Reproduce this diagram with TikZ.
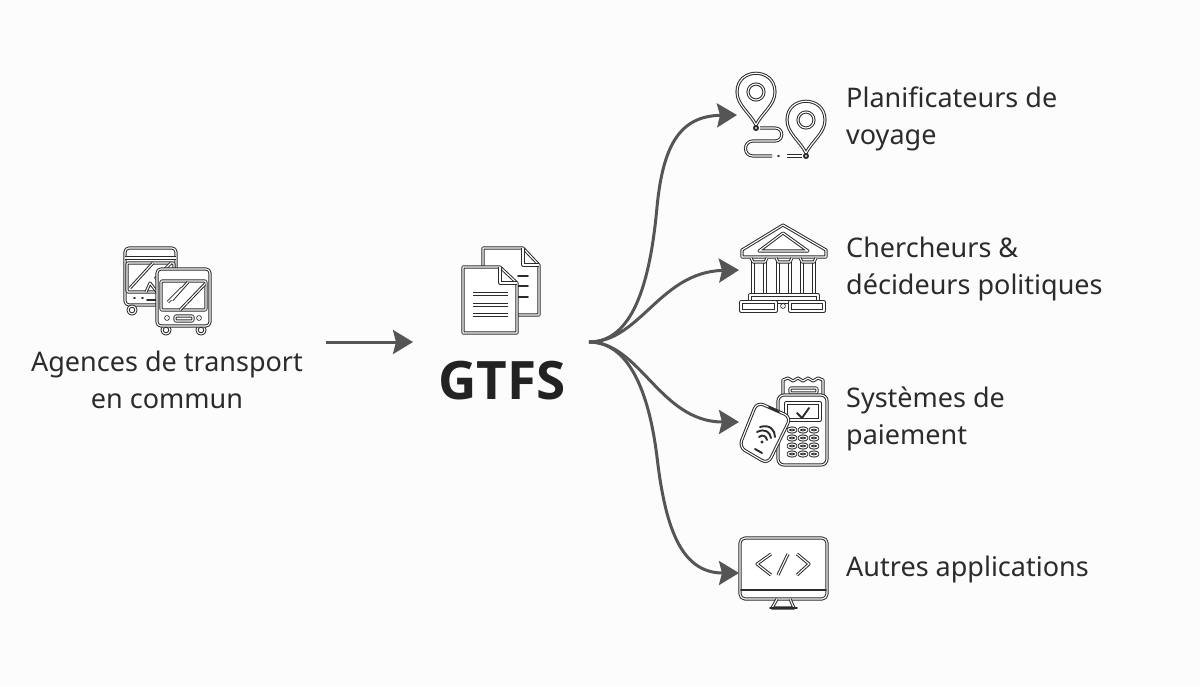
\documentclass[tikz,border=0pt]{standalone}
\usepackage{fontspec}
\setmainfont{Noto Sans}
\newfontfamily\titlefont{Open Sans}[BoldFont={Open Sans Bold}]
\usetikzlibrary{arrows.meta}
\definecolor{inkc}{HTML}{2B2B2B}
\definecolor{arrowc}{HTML}{555555}
\begin{document}
\begin{tikzpicture}[x=1pt, y=-1pt, >={Stealth[length=20pt,width=24pt,inset=3pt]},
    iconline/.style={draw=inkc, line width=1pt, double=white, double distance=1.1pt, line join=round},
    thinline/.style={draw=inkc, line width=1.9pt, line cap=round, line join=round},
    flow/.style={draw=arrowc, line width=3pt, ->},
    label/.style={text=inkc, inner sep=0pt, font=\fontsize{27}{37}\selectfont, align=left, anchor=west}]
\fill[fill=white!99!black](0,0)rectangle(1200,686);
\useasboundingbox(0,0)rectangle(1200,686);
% back bus
\draw[iconline, fill=white, rounded corners=4pt](125,248)rectangle(176,305);
\draw[iconline](125,258)--(176,258);
\draw[iconline, rounded corners=1pt](127,263)--(174,263)--(174,292)--(127,292)--cycle;
\draw[iconline](130,288)--(153,263)(146,292)--(150,283)--(157,292)(155,279)--(171,263);
\draw[thinline](134,298)--(135,298)(142,298)--(143,298)(147,300)--(157,300);
\draw[iconline](132,310)circle[radius=4];
% front bus
\draw[iconline](166,330)circle[radius=4];
\draw[iconline](201,330)circle[radius=4];
\draw[iconline, fill=white, rounded corners=4pt](157,269)rectangle(210,326);
\draw[iconline, rounded corners=1pt](161,281)--(206,281)--(206,310)--(161,310)--cycle;
\draw[iconline](172,300)--(188,282)(180,310)--(205,284)(168,302)--(182,288);
\draw[iconline](167,318)circle[radius=1.5];
\draw[iconline](199,318)circle[radius=1.5];
\draw[iconline, rounded corners=1pt](175,316)rectangle(193,321);
% documents
\draw[iconline, fill=white](483,267)--(483,248)--(523,248)--(539,265)--(539,315)--(517,315);
\draw[iconline](523,248)--(523,265)--(539,265);
\foreach \ypos in {276,286,297}
    \draw[thinline](518,\ypos)--(528,\ypos);
\draw[iconline, fill=white](463,267)--(500,267)--(517,283)--(517,333)--(463,333)--cycle;
\draw[iconline](500,267)--(500,283)--(517,283);
\foreach \ypos in {294,305,315}
    \draw[iconline](473,\ypos)--(508,\ypos);
% pins
\foreach \xpos/\ypos in {756/92,806/120}
{
    \draw[iconline, fill=white](\xpos,\ypos+33).. controls (\xpos-6,\ypos+21) and (\xpos-19,\ypos+13) ..(\xpos-19,\ypos)
        .. controls (\xpos-19,\ypos-25) and (\xpos+19,\ypos-25) ..(\xpos+19,\ypos)
        .. controls (\xpos+19,\ypos+13) and (\xpos+6,\ypos+21) ..cycle;
    \draw[iconline](\xpos,\ypos)circle[radius=8];
    \draw[thinline](\xpos,\ypos+36)circle[radius=2];
}
\draw[iconline](760,128)--(775,128).. controls (784,128) and (784,141) ..(775,141)--(753,141)
    .. controls (743,141) and (743,156) ..(753,156)--(772,156);
\draw[thinline](778,156)--(779,156);
\draw[iconline](787,156)--(802,156);
% bank
\draw[iconline, fill=white](783,225)--(742,250)--(742,257)--(826,257)--(826,250)--cycle;
\draw[iconline](783,233)--(759,251)--(808,251)--cycle;
\foreach \xpos in {753,778,802}
{
    \draw[iconline](\xpos,262)--(\xpos,295);
    \draw[iconline](\xpos+12,262)--(\xpos+12,295);
    \draw[iconline](\xpos-2,258)--(\xpos,262)--(\xpos+12,262)--(\xpos+14,258);
}
\draw[iconline](750,295)rectangle(818,302);
\draw[iconline, fill=white](741,302)rectangle(776,311);
\draw[iconline, fill=white](790,302)rectangle(824,311);
\draw[iconline](783,306)circle[radius=1.5];
% terminal
\draw[iconline, fill=white](783,395)--(783,380)--(788,378)--(793,381)--(798,378)--(803,381)--(808,378)--(813,381)--(818,378)--(823,380)--(823,395);
\draw[iconline, rounded corners=1pt](790,388)rectangle(817,393);
\draw[iconline, fill=white, rounded corners=6pt](778,395)rectangle(827,465);
\draw[iconline](786,403)rectangle(820,420);
\draw[thinline](797,413)--(802,418)--(809,408);
\foreach \ypos in {430,438,446,454}
    \foreach \xpos in {792,803,814}
        \draw[iconline](\xpos,\ypos)ellipse[x radius=4, y radius=2];
% phone
\draw[iconline, fill=white, rounded corners=7pt](757,402)--(791,417)--(768,464)--(739,447)--cycle;
\draw[thinline](769,407)--(779,412);
\draw[thinline](755,449)--(762,453);
\fill[inkc](762,442)circle[radius=1.6];
\draw[thinline](759,437).. controls (763,434) and (766,436) ..(767,440);
\draw[thinline](757,432).. controls (765,428) and (770,432) ..(771,438);
\draw[thinline](760,427).. controls (770,424) and (775,430) ..(775,437);
% monitor
\draw[iconline, fill=white, rounded corners=5pt](740,538)rectangle(827,599);
\draw[thinline](741,590)--(826,590);
\draw[iconline](777,599)--(772,608)--(794,608)--(790,599);
\draw[thinline](770,608)--(797,608);
\draw[iconline](771,554)--(757,564)--(771,575);
\draw[iconline](788,554)--(778,575);
\draw[iconline](797,554)--(809,564)--(797,575);
% labels
\node[label, align=center, anchor=center](agences)at(167,380){Agences de transport\\en commun};
\node[text=inkc!80!black, font=\fontsize{53}{53}\selectfont\titlefont\bfseries](gtfs)at(502,381){GTFS};
\node[label](planif)at(846,119){Planificateurs de\\voyage};
\node[label](cherch)at(846,269){Chercheurs \&\\décideurs politiques};
\node[label](syst)at(846,419){Systèmes de\\paiement};
\node[label](autres)at(846,569){Autres applications};
% connectors
\coordinate(busout)at(326,342);
\coordinate(gtfsin)at(413,342);
\coordinate(fan)at(589,342);
\coordinate(pinin)at(737,115);
\coordinate(bankin)at(739,270);
\coordinate(payin)at(739,422);
\coordinate(codein)at(739,573);
\draw[flow](busout)--(gtfsin);
\draw[flow](fan).. controls (632,342) and (650,285) ..(657,207).. controls (663,145) and (680,116) ..(pinin);
\draw[flow](fan).. controls (640,342) and (660,272) ..(bankin);
\draw[flow](fan).. controls (640,342) and (660,422) ..(payin);
\draw[flow](fan).. controls (632,342) and (650,400) ..(657,457).. controls (665,525) and (680,573) ..(codein);
\end{tikzpicture}
\end{document}
